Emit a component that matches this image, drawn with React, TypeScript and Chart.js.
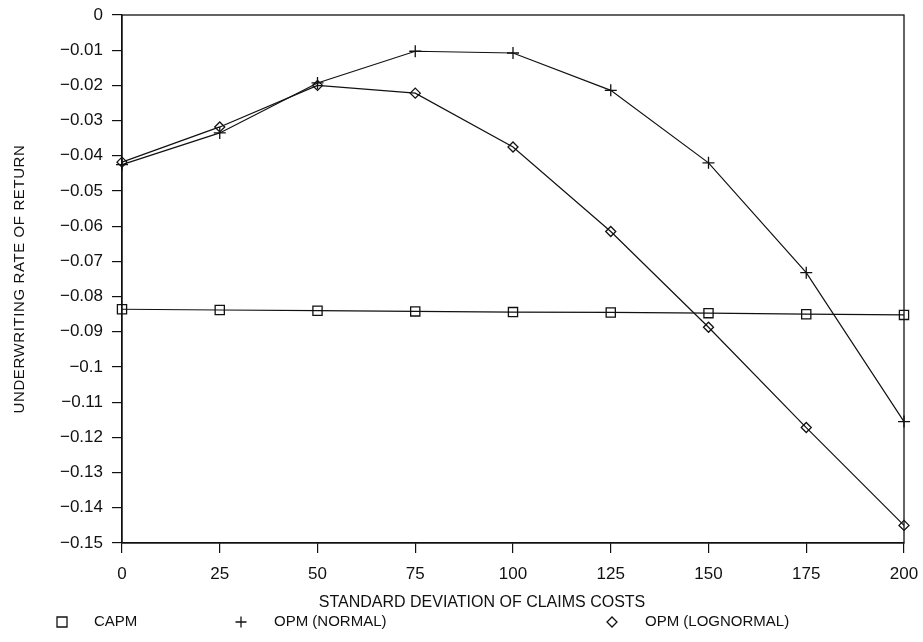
import React, { useEffect, useRef } from 'react';
import { Chart, registerables } from 'chart.js';

Chart.register(...registerables);

// Standard deviation of claims costs (x) and underwriting rate of return per model
const stdDevClaims = [0, 25, 50, 75, 100, 125, 150, 175, 200];
const capm = [-0.0836, -0.0838, -0.084, -0.0842, -0.0844, -0.0845, -0.0847, -0.085, -0.0852];
const opmNormal = [-0.0425, -0.0335, -0.0193, -0.0103, -0.0108, -0.0214, -0.042, -0.0732, -0.1155];
const opmLognormal = [-0.0418, -0.0318, -0.02, -0.0222, -0.0375, -0.0615, -0.0887, -0.1172, -0.145];

const xTickValues = [0, 25, 50, 75, 100, 125, 150, 175, 200];
const yTickValues = [0, -0.01, -0.02, -0.03, -0.04, -0.05, -0.06, -0.07, -0.08, -0.09, -0.1, -0.11, -0.12, -0.13, -0.14, -0.15];

const xTitle = 'STANDARD DEVIATION OF CLAIMS COSTS';
const yTitle = 'UNDERWRITING RATE OF RETURN';
const seriesLabels = ['CAPM', 'OPM (NORMAL)', 'OPM (LOGNORMAL)'];

const FONT = '"Liberation Sans", Arial, Helvetica, sans-serif';
const INK = '#111';

const fmtTick = (v: number) => {
  const r = Math.round(v * 100) / 100;
  const s = String(Math.abs(r));
  return r < 0 ? '\u2212' + s : s;
};

function drawMarker(ctx: CanvasRenderingContext2D, kind: string, x: number, y: number, r: number) {
  ctx.beginPath();
  if (kind === 'rect') {
    ctx.rect(x - r, y - r, 2 * r, 2 * r);
  } else if (kind === 'cross') {
    ctx.moveTo(x - r, y);
    ctx.lineTo(x + r, y);
    ctx.moveTo(x, y - r);
    ctx.lineTo(x, y + r);
  } else {
    ctx.moveTo(x, y - r);
    ctx.lineTo(x + r, y);
    ctx.lineTo(x, y + r);
    ctx.lineTo(x - r, y);
    ctx.closePath();
  }
  ctx.stroke();
}

// Frame around the plot, axis titles and the legend row underneath
const decorations = {
  id: 'decorations',
  afterDraw(chart: Chart) {
    const { ctx, chartArea: a } = chart;
    ctx.save();
    ctx.strokeStyle = INK;
    ctx.lineWidth = 1.3;
    ctx.strokeRect(a.left, a.top, a.right - a.left, a.bottom - a.top);

    ctx.fillStyle = INK;
    ctx.textBaseline = 'middle';
    ctx.font = `16px ${FONT}`;
    ctx.textAlign = 'center';
    ctx.fillText(xTitle, 482, 603);

    ctx.save();
    ctx.translate(20, 279);
    ctx.rotate(-Math.PI / 2);
    ctx.font = `15px ${FONT}`;
    (ctx as any).letterSpacing = '0.6px';
    ctx.fillText(yTitle, 0, 0);
    ctx.restore();

    const legendY = 622;
    const items = [
      { kind: 'rect', mx: 62, tx: 94, r: 5 },
      { kind: 'cross', mx: 241, tx: 274, r: 5.5 },
      { kind: 'rectRot', mx: 612, tx: 645, r: 5 },
    ];
    ctx.font = `15px ${FONT}`;
    ctx.textAlign = 'left';
    ctx.lineWidth = 1.3;
    items.forEach((it, i) => {
      drawMarker(ctx, it.kind, it.mx, legendY, it.r);
      ctx.fillText(seriesLabels[i], it.tx, legendY);
    });
    ctx.restore();
  },
};

export default function App() {
  const canvasRef = useRef<HTMLCanvasElement | null>(null);

  useEffect(() => {
    if (!canvasRef.current) return;
    const mk = (label: string, data: number[], pointStyle: any, radius: number) => ({
      label,
      data: stdDevClaims.map((x, i) => ({ x, y: data[i] })),
      borderColor: INK,
      borderWidth: 1.2,
      pointStyle,
      pointRadius: radius,
      pointBorderColor: INK,
      pointBorderWidth: 1.3,
      pointBackgroundColor: 'rgba(0,0,0,0)',
      tension: 0,
      clip: false as any,
    });

    const chart = new Chart(canvasRef.current, {
      type: 'line',
      data: {
        datasets: [
          mk(seriesLabels[0], capm, 'rect', 6.5),
          mk(seriesLabels[1], opmNormal, 'cross', 6),
          mk(seriesLabels[2], opmLognormal, 'rectRot', 5),
        ],
      },
      options: {
        animation: false,
        responsive: true,
        maintainAspectRatio: false,
        layout: { padding: { top: 15, right: 19, left: 0, bottom: 0 } },
        plugins: { legend: { display: false }, tooltip: { enabled: false } },
        scales: {
          x: {
            type: 'linear',
            min: 0,
            max: 200,
            afterBuildTicks: (s: any) => {
              s.ticks = xTickValues.map((value) => ({ value }));
            },
            afterFit: (s: any) => {
              s.height = 99;
              s.paddingLeft = 0;
              s.paddingRight = 0;
            },
            grid: { display: true, drawOnChartArea: false, drawTicks: true, tickLength: 10, color: INK, lineWidth: 1.2 },
            border: { display: true, color: INK, width: 1.3 },
            ticks: { color: INK, font: { family: FONT, size: 17 }, padding: 11, maxRotation: 0, callback: (v: any) => String(v) },
          },
          y: {
            type: 'linear',
            min: -0.15,
            max: 0,
            afterBuildTicks: (s: any) => {
              s.ticks = yTickValues.map((value) => ({ value }));
            },
            afterFit: (s: any) => {
              s.width = 122;
              s.paddingTop = 0;
              s.paddingBottom = 0;
            },
            grid: { display: true, drawOnChartArea: false, drawTicks: true, tickLength: 10, color: INK, lineWidth: 1.2 },
            border: { display: true, color: INK, width: 1.3 },
            ticks: { color: INK, font: { family: FONT, size: 17 }, padding: 9, callback: (v: any) => fmtTick(Number(v)) },
          },
        },
      },
      plugins: [decorations],
    });
    return () => chart.destroy();
  }, []);

  return (
    <div style={{ position: 'fixed', left: 0, top: 0, width: 923, height: 642, background: '#fff' }}>
      <canvas ref={canvasRef} />
    </div>
  );
}
